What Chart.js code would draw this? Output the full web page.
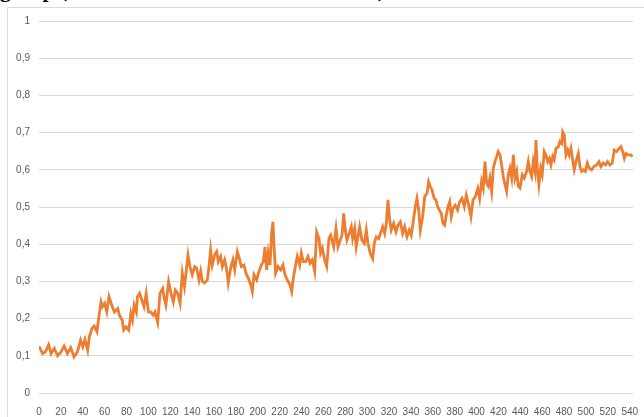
<!DOCTYPE html>
<html>
<head>
<meta charset="utf-8">
<script src="https://cdn.jsdelivr.net/npm/chart.js@4.4.1/dist/chart.umd.min.js"></script>
<style>
  body { margin: 0; background: #fff; overflow: hidden; }
  #wrap { position: relative; width: 644px; height: 417px; overflow: hidden; }
  #frame { position: absolute; left: 7px; top: 7px; width: 700px; height: 500px; border: 1px solid #d9d9d9; }
  #title { position: absolute; left: 0; top: -20.5px; white-space: nowrap; font: bold 21.5px "Liberation Serif", "Times New Roman", serif; line-height: 21.5px; color: #000; }
  #title .pre { position: absolute; right: 100%; }
  canvas { position: absolute; left: 0; top: 0; }
</style>
</head>
<body>
<div id="wrap">
  <div id="frame"></div>
  <div id="title"><span class="pre">Training&nbsp;</span>group (mean ratio of the sessions in trials)</div>
  <canvas id="lineChart" width="644" height="417"></canvas>
</div>
<script>
// sample positions (x) and values
const sampleX = [
  0, 3.3, 5.8, 8.8, 11, 14, 17, 20, 23, 26, 29, 32, 35, 38, 40, 42, 44.5, 46, 48.5, 50.5,
  53, 54.5, 56.7, 58, 60, 62, 64, 67, 69, 72, 73.5, 76, 77.4, 79.5, 82, 84, 85.5, 87, 89, 90,
  92, 94, 96, 98, 100, 102, 104.5, 106, 108.5, 110.6, 113, 114.5, 116, 118.5, 120.7, 122.8, 124.6, 126.8, 129, 131,
  133, 136.2, 138, 140.1, 142.3, 144.1, 146.3, 147.8, 149.3, 151.4, 153.9, 155.4, 156.9, 158.4, 160.6, 162.4, 163.9, 166, 167.6, 169.7,
  171.6, 173, 175.2, 177.3, 178.9, 181.3, 183.5, 184.9, 187.4, 189.2, 191.3, 193.5, 195, 196.5, 199, 201.1, 203.2, 205, 206.6, 208.1,
  209.6, 211.2, 212.7, 213.9, 214.8, 216.3, 218.5, 221, 223, 224.9, 227, 229.4, 231, 232.5, 234.6, 236.1, 238.3, 239.8, 241.6, 243.8,
  245.9, 247.7, 249.8, 252, 253.8, 255.9, 257.4, 259, 261.1, 263, 265.1, 266.6, 267.8, 269.4, 271.5, 273.3, 275.4, 277, 278.5, 280,
  281.5, 283.6, 285.5, 286.7, 288.6, 290, 291.6, 293.1, 295.2, 297.4, 299.2, 300.7, 302.9, 305, 306.5, 308.3, 310.5, 312.6, 314.2, 316,
  317.5, 319, 320.6, 322, 324.2, 326.3, 328.2, 330.3, 332.4, 334.3, 336.4, 338.5, 340.3, 341.9, 344, 345.5, 347.1, 348.6, 350.7, 352.6,
  354.7, 356.2, 357.7, 359.2, 361.3, 362.9, 364.4, 365.9, 367.7, 369.3, 370.8, 372.3, 373.9, 375.4, 376.9, 378.4, 380.5, 382.7, 384.5, 386.7,
  388.8, 390.6, 392.8, 394.9, 396.7, 398.9, 401.1, 402.8, 404.6, 406.1, 407.7, 409.2, 410.7, 412.2, 413.8, 415.3, 416.8, 418.4, 419.8, 421.4,
  422.9, 424.4, 426, 427.5, 429, 430.5, 432.1, 433.6, 435.1, 436.7, 438.1, 439.7, 441.8, 443.6, 445.8, 447.3, 448.8, 450.4, 451.8, 453.4,
  454.3, 455.5, 457, 458.6, 460, 461.9, 463.4, 465, 466.5, 468, 469.6, 471, 472.6, 474.7, 476.2, 477.8, 478.7, 480.2, 481.7, 483.3,
  484.7, 486.3, 487.8, 489.3, 490.9, 493, 494.5, 496.1, 497.5, 499.4, 501.2, 503, 505.2, 507.3, 509.8, 511.9, 513.7, 515.8, 518, 519.8,
  521.9, 524, 525.9, 528, 530.5, 532, 533.6, 535.1, 536.6, 538.7, 540.9, 542.7
]

const ratio = [
  0.125, 0.106, 0.11, 0.13, 0.106, 0.12, 0.10, 0.11, 0.126, 0.106, 0.122, 0.097, 0.11, 0.142, 0.124, 0.144, 0.115, 0.151, 0.174, 0.18,
  0.165, 0.2, 0.245, 0.232, 0.241, 0.218, 0.259, 0.232, 0.218, 0.227, 0.209, 0.196, 0.169, 0.178, 0.169, 0.214, 0.196, 0.236, 0.218, 0.259,
  0.268, 0.25, 0.232, 0.268, 0.218, 0.218, 0.209, 0.218, 0.19, 0.268, 0.281, 0.254, 0.236, 0.299, 0.268, 0.245, 0.277, 0.268, 0.241, 0.322,
  0.286, 0.371, 0.34, 0.318, 0.34, 0.336, 0.304, 0.327, 0.30, 0.296, 0.304, 0.34, 0.384, 0.344, 0.371, 0.38, 0.353, 0.367, 0.34, 0.358,
  0.331, 0.296, 0.336, 0.358, 0.331, 0.38, 0.358, 0.34, 0.344, 0.322, 0.309, 0.291, 0.273, 0.318, 0.304, 0.327, 0.344, 0.353, 0.393, 0.331,
  0.376, 0.344, 0.433, 0.46, 0.398, 0.322, 0.34, 0.331, 0.344, 0.318, 0.304, 0.291, 0.273, 0.309, 0.344, 0.367, 0.344, 0.376, 0.353, 0.353,
  0.367, 0.349, 0.358, 0.327, 0.433, 0.416, 0.376, 0.389, 0.358, 0.34, 0.416, 0.424, 0.411, 0.393, 0.442, 0.393, 0.411, 0.424, 0.483, 0.438,
  0.411, 0.429, 0.447, 0.415, 0.442, 0.393, 0.42, 0.447, 0.411, 0.402, 0.438, 0.402, 0.375, 0.361, 0.402, 0.42, 0.415, 0.433, 0.447, 0.429,
  0.456, 0.519, 0.465, 0.438, 0.456, 0.433, 0.451, 0.46, 0.429, 0.447, 0.42, 0.438, 0.424, 0.456, 0.501, 0.523, 0.492, 0.438, 0.474, 0.528,
  0.537, 0.568, 0.555, 0.546, 0.523, 0.519, 0.501, 0.492, 0.483, 0.456, 0.451, 0.478, 0.501, 0.514, 0.474, 0.496, 0.505, 0.492, 0.514, 0.523,
  0.501, 0.532, 0.505, 0.474, 0.519, 0.528, 0.55, 0.523, 0.569, 0.551, 0.622, 0.564, 0.556, 0.578, 0.542, 0.604, 0.622, 0.636, 0.649, 0.64,
  0.613, 0.582, 0.56, 0.542, 0.587, 0.604, 0.578, 0.64, 0.578, 0.596, 0.556, 0.551, 0.587, 0.578, 0.596, 0.622, 0.596, 0.582, 0.622, 0.596,
  0.68, 0.604, 0.56, 0.604, 0.587, 0.649, 0.64, 0.622, 0.631, 0.613, 0.636, 0.627, 0.658, 0.662, 0.676, 0.671, 0.702, 0.693, 0.64, 0.653,
  0.64, 0.658, 0.627, 0.60, 0.622, 0.644, 0.609, 0.596, 0.60, 0.596, 0.618, 0.604, 0.60, 0.609, 0.613, 0.622, 0.609, 0.618, 0.613, 0.622,
  0.613, 0.618, 0.653, 0.649, 0.658, 0.662, 0.649, 0.631, 0.644, 0.64, 0.64, 0.636
]

// axis ranges / tick labels as shown in the picture
const xMax = 543
const xTicks = [0, 20, 40, 60, 80, 100, 120, 140, 160, 180, 200, 220, 240, 260, 280, 300, 320, 340, 360, 380, 400, 420, 440, 460, 480, 500, 520, 540]
const yTicks = [0, 0.1, 0.2, 0.3, 0.4, 0.5, 0.6, 0.7, 0.8, 0.9, 1]

const points = sampleX.map((x, i) => ({ x: x, y: ratio[i] }))
const labelFont = { family: '"Liberation Sans Narrow", "Liberation Sans", Arial, sans-serif', size: 10 }

const ctx = document.getElementById('lineChart').getContext('2d')

new Chart(ctx, {
  type: 'line',
  data: {
    datasets: [
      {
        label: 'ratio',
        data: points,
        borderColor: '#ED7D31',
        borderWidth: 2.8,
        pointRadius: 0,
        tension: 0,
        fill: false,
      },
    ],
  },
  options: {
    responsive: false,
    animation: false,
    layout: { padding: { top: 21, right: 11, left: 0, bottom: 0 } },
    plugins: {
      legend: { display: false },
      tooltip: { enabled: false },
    },
    scales: {
      x: {
        type: 'linear',
        min: 0,
        max: xMax,
        grid: { display: false },
        border: { display: false },
        ticks: {
          padding: 5,
          maxRotation: 0,
          autoSkip: false,
          color: '#595959',
          font: labelFont,
        },
        afterBuildTicks: (axis) => {
          axis.ticks = xTicks.map(v => ({ value: v }))
        },
        afterFit: (axis) => { axis.height = 24 },
      },
      y: {
        min: 0,
        max: 1,
        grid: { color: '#d9d9d9', lineWidth: 1, drawTicks: false },
        border: { display: false },
        ticks: {
          padding: 9,
          color: '#595959',
          font: labelFont,
          callback: (v) => (v === 0 || v === 1) ? String(v) : v.toFixed(1).replace('.', ','),
        },
        afterBuildTicks: (axis) => {
          axis.ticks = yTicks.map(v => ({ value: v }))
        },
        afterFit: (axis) => { axis.width = 39 },
      },
    },
  },
})
</script>
</body>
</html>
